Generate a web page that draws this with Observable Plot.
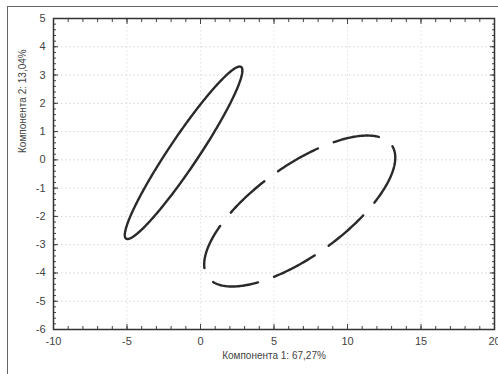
<!DOCTYPE html>
<html>
<head>
<meta charset="utf-8">
<script src="https://cdn.jsdelivr.net/npm/d3@7"></script>
<script src="https://cdn.jsdelivr.net/npm/@observablehq/plot@0.6"></script>
<style>
  html, body { margin: 0; padding: 0; background: #fff; overflow: hidden; width: 498px; height: 374px; }
  #wrap { position: relative; width: 498px; height: 374px; }
  #border { position: absolute; left: 7px; top: 6px; width: 600px; height: 500px;
            border-left: 1.5px solid #666; border-top: 1.5px solid #666; pointer-events: none; }
  svg { position: absolute; left: 0; top: 0; }
</style>
</head>
<body>
<div id="wrap"><div id="border"></div></div>
<script>
// Ellipse parameters (data units):
// x(t) = cx + ax*cos(t), y(t) = cy + ay*cos(t - phase)
const groups   = ["A", "B"];
const centerX  = [-1.15, 6.75];
const centerY  = [0.25, -1.81];
const halfX    = [4.0, 6.5];
const halfY    = [3.05, 2.67];
const phase    = [0.305, 0.785];
const startT   = [0, -0.08];
const dashes   = [null, "46,17"];

const xTicks = [-10, -5, 0, 5, 10, 15, 20];
const yTicks = [-6, -5, -4, -3, -2, -1, 0, 1, 2, 3, 4, 5];
const xMinor = d3.range(-10, 20.01, 1);
const yMinor = d3.range(-6, 5.001, 0.2);
const xLabel = "Компонента 1: 67,27%";
const yLabel = "Компонента 2: 13,04%";

const N = 360;
const outline = groups.map((g, i) =>
  d3.range(N + 1).map(k => {
    const t = startT[i] - (2 * Math.PI * k) / N;
    return { g, x: centerX[i] + halfX[i] * Math.cos(t), y: centerY[i] + halfY[i] * Math.cos(t - phase[i]) };
  })
);

const font = "Liberation Sans, Arial, sans-serif";
const chart = Plot.plot({
  width: 498,
  height: 374,
  marginLeft: 53,
  marginRight: 4,
  marginTop: 18,
  marginBottom: 45,
  style: { fontFamily: font, fontSize: "11px", color: "#444", background: "transparent", overflow: "visible" },
  x: { domain: [-10, 20] },
  y: { domain: [-6, 5] },
  marks: [
    Plot.gridY(yTicks.filter(v => v > -6 && v < 5), { stroke: "#d4d4d4", strokeOpacity: 1, strokeDasharray: "1.5,2.5", strokeWidth: 1 }),
    Plot.gridX(xTicks.filter(v => v > -10 && v < 20), { stroke: "#e2e2e2", strokeOpacity: 1, strokeDasharray: "1.5,2.5", strokeWidth: 1 }),
    // minor ticks (inward)
    Plot.axisX({ anchor: "bottom", ticks: xMinor, tickSize: -3, text: null, stroke: "#444", label: null }),
    Plot.axisX({ anchor: "top", ticks: xMinor, tickSize: -3, text: null, stroke: "#444", label: null }),
    Plot.axisY({ anchor: "left", ticks: yMinor, tickSize: -3, text: null, stroke: "#444", label: null }),
    Plot.axisY({ anchor: "right", ticks: yMinor, tickSize: -3, text: null, stroke: "#444", label: null }),
    // major ticks + labels
    Plot.axisX({ anchor: "bottom", ticks: xTicks, tickSize: -5, stroke: "#444", text: null, label: null }),
    Plot.axisX({ anchor: "top", ticks: xTicks, tickSize: -5, stroke: "#444", text: null, label: null }),
    Plot.axisY({ anchor: "left", ticks: yTicks, tickSize: -5, stroke: "#444", text: null, label: null }),
    Plot.axisY({ anchor: "right", ticks: yTicks, tickSize: -5, stroke: "#444", text: null, label: null }),
    Plot.axisX({ anchor: "bottom", ticks: xTicks, tickSize: 0, tickPadding: 8, fill: "#444", label: null, tickFormat: d => String(d).replace("−", "-") }),
    Plot.axisY({ anchor: "left", ticks: yTicks, tickSize: 0, tickPadding: 8, fill: "#444", label: null, tickFormat: d => String(d).replace("−", "-") }),
    Plot.frame({ stroke: "#333", strokeWidth: 1.5 }),
    ...outline.map((pts, i) =>
      Plot.line(pts, { x: "x", y: "y", stroke: "#2a2a2a", strokeWidth: 2.4, strokeDasharray: dashes[i], strokeLinecap: "round", strokeLinejoin: "round" })
    ),
    Plot.text([xLabel], { frameAnchor: "bottom", dy: 26, text: d => d, fontSize: 10, fill: "#444", lineAnchor: "middle" }),
    Plot.text([yLabel], { frameAnchor: "left", dx: -31, dy: -21, text: d => d, fontSize: 10, fill: "#444", rotate: -90, lineAnchor: "middle" })
  ]
});
document.getElementById("wrap").appendChild(chart);
</script>
</body>
</html>
